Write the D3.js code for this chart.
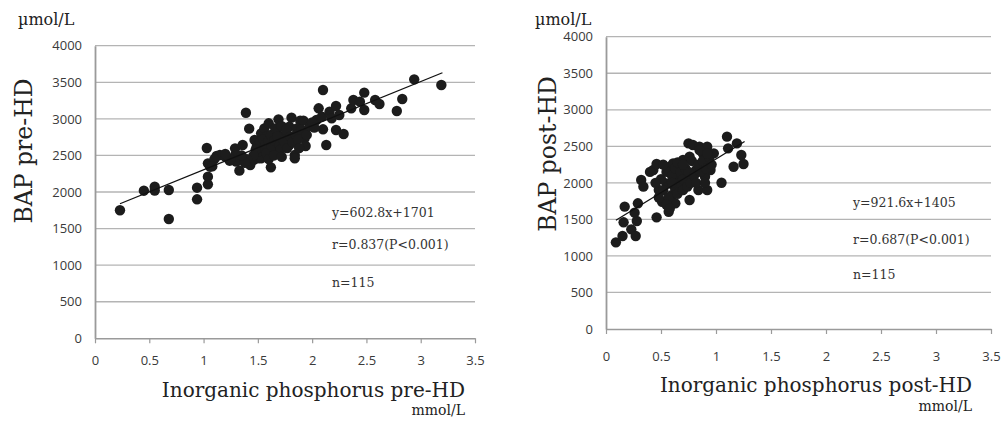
<!DOCTYPE html>
<html>
<head>
<script src="https://cdn.jsdelivr.net/npm/d3@7/dist/d3.min.js"></script>
<style>
  body{margin:0;background:#fff;}
  svg{display:block;}
</style>
</head>
<body>
<div id="chart"></div>
<script>

// pre-HD: inorganic phosphorus (mmol/L) vs BAP (umol/L)
var preX = [0.23,0.45,0.55,0.55,0.68,0.68,0.94,0.94,1.03,1.04,1.04,1.04,1.06,1.12,1.15,1.20,1.24,1.29,1.29,1.30,1.33,
  1.36,1.39,1.42,1.43,1.46,1.50,1.53,1.47,1.49,1.53,1.56,1.58,1.60,1.62,1.64,1.69,1.69,1.67,1.70,1.75,1.78,1.79,1.81,1.79,
  1.84,1.84,1.86,1.89,1.92,1.93,1.93,1.94,2.04,2.06,2.09,2.10,2.10,2.13,2.16,2.18,2.22,2.22,2.29,2.25,2.36,2.38,2.44,2.48,
  2.48,2.58,2.62,2.78,2.83,2.94,3.19,
  1.50,1.52,1.55,1.55,1.57,1.58,1.60,1.62,1.63,1.65,1.66,1.68,1.70,1.71,1.72,1.74,1.76,1.77,1.80,1.82,1.85,1.87,1.88,1.90,
  1.95,1.98,2.00,2.02,1.48,1.46,1.40,1.38,1.35,1.25,1.20,1.10,1.08,1.60,1.65,1.72]
var preY = [1750,2018,2073,2020,2027,1631,2059,1900,2601,2392,2210,2105,2346,2492,2505,2483,2428,2597,2505,2415,2292,
  2642,3084,2866,2369,2437,2460,2460,2711,2620,2802,2870,2756,2939,2337,2551,2551,2993,2825,2733,2779,2711,2642,3016,2893,
  2505,2460,2870,2975,2975,2825,2733,2629,2984,3144,3030,3394,2857,2642,3098,3007,3175,2848,2793,3053,3144,3258,3235,3358,
  3121,3258,3203,3107,3271,3540,3463,
  2550,2680,2600,2720,2650,2530,2700,2780,2620,2700,2870,2760,2640,2580,2900,2700,2850,2600,2760,2680,2780,2720,2600,2850,
  2780,2900,2950,2880,2580,2500,2450,2400,2500,2450,2520,2450,2350,2450,2500,2480]

// post-HD
var postX = [0.09,0.15,0.16,0.17,0.23,0.27,0.28,0.26,0.29,0.32,0.34,0.46,0.43,0.46,0.48,0.51,0.55,0.57,0.58,0.60,0.63,
  0.61,0.64,0.67,0.70,0.73,0.75,0.76,0.76,0.79,0.82,0.84,0.85,0.88,0.90,0.92,0.93,0.92,0.95,0.98,1.05,1.10,1.11,1.16,1.19,
  1.23,1.25,
  0.50,0.52,0.55,0.57,0.60,0.62,0.63,0.65,0.66,0.68,0.70,0.70,0.72,0.74,0.75,0.77,0.78,0.80,0.82,0.84,0.86,0.88,0.90,0.91,
  0.94,0.96,0.55,0.48,0.45,0.40,0.52,0.58,0.65,0.85,0.60,0.70,0.92]
var postY = [1186,1273,1460,1674,1364,1273,1478,1592,1720,2039,1948,1528,2176,2258,1902,1742,1993,1605,2221,1834,1720,
  2267,2039,1948,2312,2084,2540,2358,1765,2518,2176,1902,2495,2404,2084,2495,2267,1902,2176,2404,2002,2632,2472,2221,2540,
  2381,2258,
  2050,1900,2150,1800,2100,1950,2200,1850,2000,2150,1900,2050,2200,1950,2150,2000,2300,2100,2000,2250,2150,2300,2000,2200,
  2350,2250,1700,1800,2000,2150,2250,1650,2280,2450,2000,2250,2400]

var xTicks = [0,0.5,1,1.5,2,2.5,3,3.5]
var yTicks = [0,500,1000,1500,2000,2500,3000,3500,4000]

var panels = [
  {x:preX, y:preY, slope:602.8, icpt:1701, fitFrom:0.23, fitTo:3.2,
   yTitle:"BAP pre-HD", xTitle:"Inorganic phosphorus pre-HD",
   notes:["y=602.8x+1701","r=0.837(P<0.001)","n=115"]},
  {x:postX, y:postY, slope:921.6, icpt:1405, fitFrom:0.09, fitTo:1.26,
   yTitle:"BAP post-HD", xTitle:"Inorganic phosphorus post-HD",
   notes:["y=921.6x+1405","r=0.687(P<0.001)","n=115"]}
]

// layout per panel (pixels)
var layout = [
  {left:95, right:475, top:45.7, bottom:338.3, xLabY:360, unitX:18, unitY:25, yTitleX:32, yTitleY:151,
   noteX:332, noteY:[217,249,287], xTitleX:465, xTitleY:397, xUnitY:415},
  {left:606, right:991, top:36.7, bottom:329, xLabY:356, unitX:535, unitY:25, yTitleX:556, yTitleY:154,
   noteX:853, noteY:[207,244,279], xTitleX:972, xTitleY:392, xUnitY:411}
]

var serif = "'DejaVu Serif', 'Liberation Serif', serif"
var sans = "'Open Sans', 'Liberation Sans', sans-serif"

var svg = d3.select("#chart").append("svg").attr("width",1001).attr("height",426)

panels.forEach(function(p,i){
  var L = layout[i]
  var xScale = d3.scaleLinear().domain([0,3.5]).range([L.left,L.right])
  var yScale = d3.scaleLinear().domain([0,4000]).range([L.bottom,L.top])
  var g = svg.append("g")

  // gridlines
  g.selectAll(".grid").data(yTicks.slice(1)).enter().append("line")
    .attr("x1",L.left).attr("x2",L.right)
    .attr("y1",function(d){return yScale(d)}).attr("y2",function(d){return yScale(d)})
    .attr("stroke","#b4b4b4").attr("stroke-width",1.3)

  // y axis
  var yAxis = d3.axisLeft(yScale).tickValues(yTicks).tickSize(0).tickPadding(13)
    .tickFormat(function(d){return String(d)})
  var ya = g.append("g").attr("transform","translate("+L.left+",0)").call(yAxis)
  ya.select(".domain").attr("stroke","#9a9a9a").attr("stroke-width",1.8)
  ya.selectAll("text").attr("font-family",sans).attr("font-size",13).attr("fill","#3a3a3a")

  // x axis
  var xAxis = d3.axisBottom(xScale).tickValues(xTicks).tickSize(5).tickSizeOuter(0)
    .tickFormat(function(d){return String(d)})
  var xa = g.append("g").attr("transform","translate(0,"+L.bottom+")").call(xAxis)
  xa.select(".domain").attr("stroke","#9a9a9a").attr("stroke-width",1.5)
  xa.selectAll(".tick line").attr("stroke","#9a9a9a").attr("stroke-width",1.2)
  xa.selectAll("text").attr("y",L.xLabY-L.bottom).attr("dy","0.35em")
    .attr("font-family",sans).attr("font-size",13).attr("fill","#3a3a3a")

  // points
  g.selectAll(".dot").data(d3.range(p.x.length)).enter().append("circle")
    .attr("cx",function(k){return xScale(p.x[k])})
    .attr("cy",function(k){return yScale(p.y[k])})
    .attr("r",5.2).attr("fill","#1c1c1c")

  // regression line
  g.append("line")
    .attr("x1",xScale(p.fitFrom)).attr("y1",yScale(p.slope*p.fitFrom+p.icpt))
    .attr("x2",xScale(p.fitTo)).attr("y2",yScale(p.slope*p.fitTo+p.icpt))
    .attr("stroke","#111").attr("stroke-width",1.3)

  // annotations
  p.notes.forEach(function(t,k){
    g.append("text").text(t).attr("x",L.noteX).attr("y",L.noteY[k])
      .attr("font-family",serif).attr("font-size",12.5).attr("fill","#333")
  })

  // titles
  g.append("text").text("\u00b5mol/L").attr("x",L.unitX).attr("y",L.unitY)
    .attr("font-family",serif).attr("font-size",16).attr("fill","#222")
  g.append("text").text(p.yTitle)
    .attr("transform","translate("+L.yTitleX+","+L.yTitleY+") rotate(-90)")
    .attr("text-anchor","middle").attr("font-family",serif).attr("font-size",23.5).attr("fill","#222")
  g.append("text").text(p.xTitle).attr("x",L.xTitleX).attr("y",L.xTitleY)
    .attr("text-anchor","end").attr("font-family",serif).attr("font-size",20).attr("fill","#222")
  g.append("text").text("mmol/L").attr("x",L.xTitleX).attr("y",L.xUnitY)
    .attr("text-anchor","end").attr("font-family",serif).attr("font-size",14).attr("fill","#222")
})

</script>
</body>
</html>
